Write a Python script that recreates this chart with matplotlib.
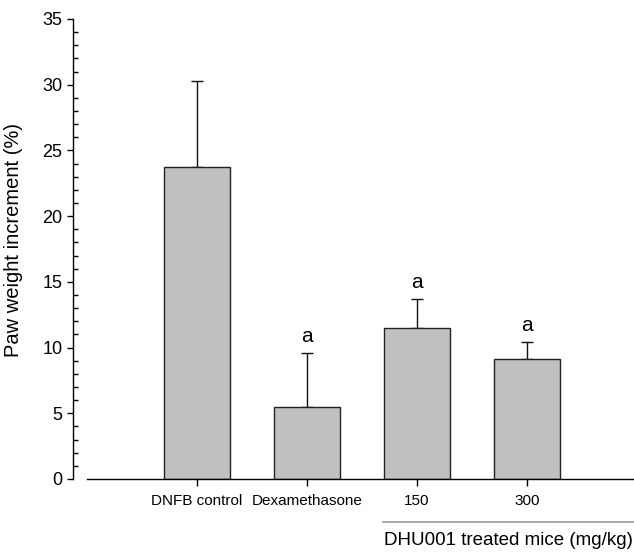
import numpy as np
import matplotlib
matplotlib.use("Agg")
import matplotlib.pyplot as plt
from matplotlib.ticker import MultipleLocator
import matplotlib.transforms as mtransforms

plt.rcParams['font.family'] = ['Liberation Sans', 'DejaVu Sans']

# data
groups = ['DNFB control', 'Dexamethasone', '150', '300']
paw_increment = [23.7, 5.5, 11.5, 9.1]
paw_err = [6.6, 4.1, 2.2, 1.3]
marks = ['', 'a', 'a', 'a']
group_title = 'DHU001 treated mice (mg/kg)'

fig = plt.figure(figsize=(6.34, 5.58), dpi=100)
ax = fig.add_axes([0.1372, 0.1416, 0.8628, 0.8244])

x = np.arange(len(groups))
ax.bar(x, paw_increment, width=0.6, color='#c0c0c0', edgecolor='#222222',
       linewidth=1.0, zorder=2)
ax.errorbar(x, paw_increment, yerr=[np.zeros(len(x)), paw_err], fmt='none',
            ecolor='#111111', elinewidth=1.0, capsize=4.3, capthick=1.0, zorder=1)

for xi, v, e, m in zip(x, paw_increment, paw_err, marks):
    if m:
        ax.annotate(m, (xi, v + e), xytext=(0, 5), textcoords='offset points',
                    ha='center', va='bottom', fontsize=15)

ax.set_xlim(-1.0, 3.975)
ax.set_ylim(0, 35)
ax.set_xticks(x)
ax.set_xticklabels(groups, fontsize=11)
ax.yaxis.set_major_locator(MultipleLocator(5))
ax.yaxis.set_minor_locator(MultipleLocator(1))
ax.tick_params(axis='y', which='major', direction='out', length=4.3, width=1,
               labelsize=13, pad=3.5)
ax.tick_params(axis='y', which='minor', direction='in', length=3.4, width=1)
ax.tick_params(axis='x', which='major', direction='out', length=5, width=1,
               pad=6)

for s in ['top', 'right']:
    ax.spines[s].set_visible(False)
ax.spines['left'].set_position(('outward', 10))
ax.spines['left'].set_linewidth(1)
ax.spines['bottom'].set_linewidth(1)

ax.set_ylabel('Paw weight increment (%)', fontsize=14.5)
ax.yaxis.set_label_coords(-0.117, 0.52)

# group bracket under the DHU001 doses
trans = mtransforms.blended_transform_factory(ax.transData, ax.transAxes)
ax.plot([1.694, 3.975], [-0.0935, -0.0935], transform=trans, color='#999999',
        linewidth=1.2, clip_on=False)
ax.text(1.70, -0.1435, group_title, transform=trans, ha='left', va='baseline',
        fontsize=13.5)

fig.savefig('out.png', dpi=100)
